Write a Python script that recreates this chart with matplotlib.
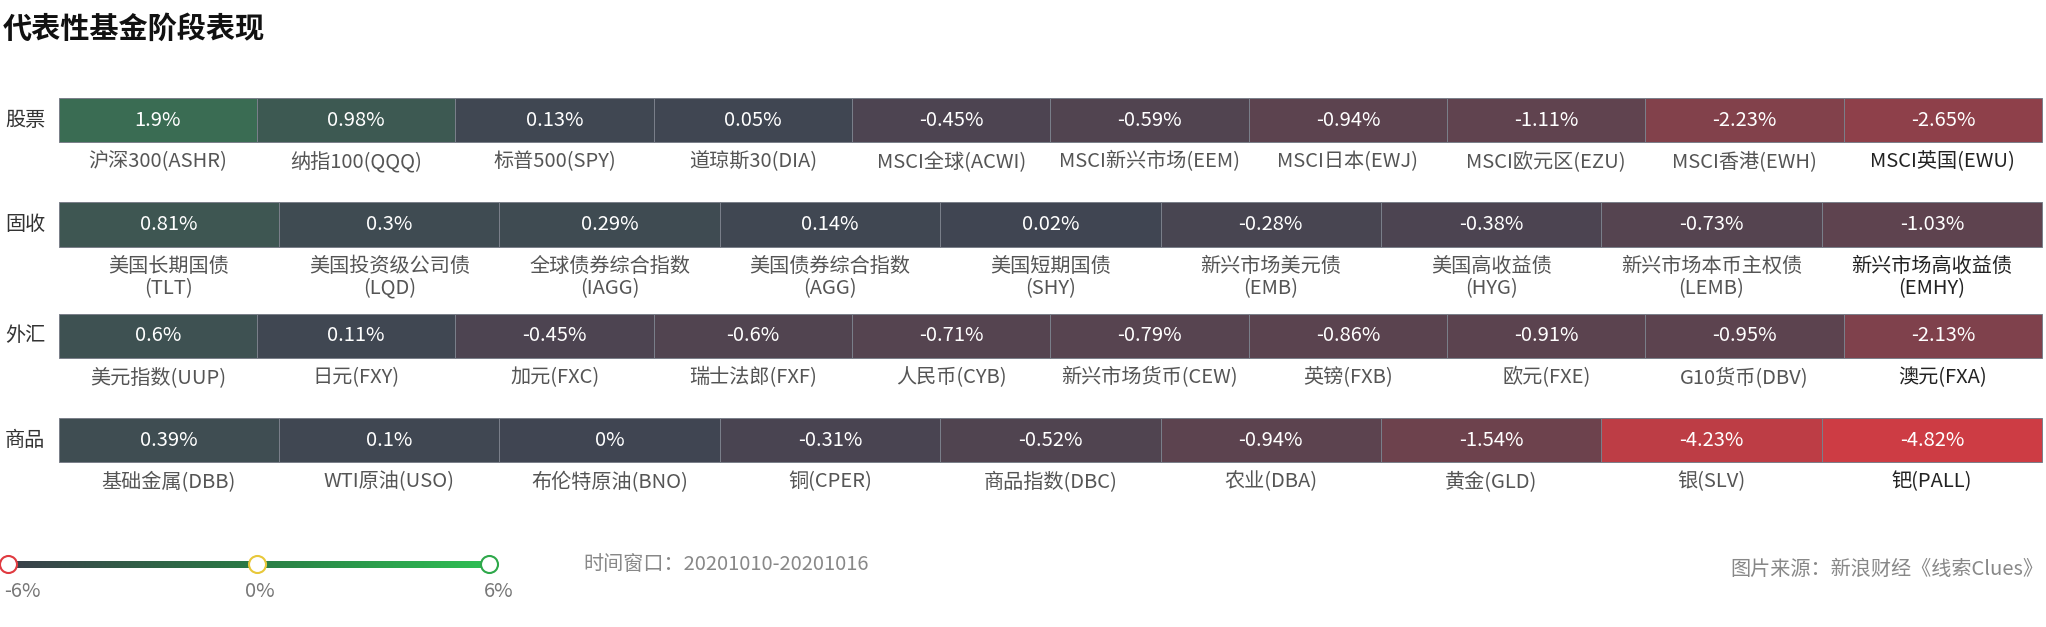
import numpy as np
import matplotlib
matplotlib.use('Agg')
import matplotlib.pyplot as plt
from matplotlib.colors import LinearSegmentedColormap

plt.rcParams['font.family'] = ['Noto Sans CJK SC', 'DejaVu Sans']

# ── Data ──
row_names = ['股票', '固收', '外汇', '商品']
stock_labels = ['沪深300(ASHR)', '纳指100(QQQ)', '标普500(SPY)', '道琼斯30(DIA)', 'MSCI全球(ACWI)',
                'MSCI新兴市场(EEM)', 'MSCI日本(EWJ)', 'MSCI欧元区(EZU)', 'MSCI香港(EWH)', 'MSCI英国(EWU)']
stock_values = [1.9, 0.98, 0.13, 0.05, -0.45, -0.59, -0.94, -1.11, -2.23, -2.65]
bond_labels = ['美国长期国债\n(TLT)', '美国投资级公司债\n(LQD)', '全球债券综合指数\n(IAGG)', '美国债券综合指数\n(AGG)',
               '美国短期国债\n(SHY)', '新兴市场美元债\n(EMB)', '美国高收益债\n(HYG)', '新兴市场本币主权债\n(LEMB)',
               '新兴市场高收益债\n(EMHY)']
bond_values = [0.81, 0.3, 0.29, 0.14, 0.02, -0.28, -0.38, -0.73, -1.03]
fx_labels = ['美元指数(UUP)', '日元(FXY)', '加元(FXC)', '瑞士法郎(FXF)', '人民币(CYB)', '新兴市场货币(CEW)',
             '英镑(FXB)', '欧元(FXE)', 'G10货币(DBV)', '澳元(FXA)']
fx_values = [0.6, 0.11, -0.45, -0.6, -0.71, -0.79, -0.86, -0.91, -0.95, -2.13]
cmd_labels = ['基础金属(DBB)', 'WTI原油(USO)', '布伦特原油(BNO)', '铜(CPER)', '商品指数(DBC)', '农业(DBA)',
              '黄金(GLD)', '银(SLV)', '钯(PALL)']
cmd_values = [0.39, 0.1, 0.0, -0.31, -0.52, -0.94, -1.54, -4.23, -4.82]

rows = [(stock_labels, stock_values), (bond_labels, bond_values),
        (fx_labels, fx_values), (cmd_labels, cmd_values)]

cmap = LinearSegmentedColormap.from_list('div', ['#f03a40', '#404552', '#2ec054'])

def fmt(v):
    return f'{v:g}%'

fig = plt.figure(figsize=(20.46, 6.27), dpi=100)
ax = fig.add_axes([0, 0, 1, 1])
# layout units: 1568 x 480 (scaled to the 2046 x 627 canvas)
ax.set_xlim(0, 1568)
ax.set_ylim(480, 0)
ax.axis('off')

fs = 14.5
ax.text(2, 22, '代表性基金阶段表现', fontsize=21, fontweight='bold', va='center', ha='left', color='#111')

x0, x1 = 45, 1565
row_tops = [75, 155, 240, 320]
h = 34
for (labels, values), top, name in zip(rows, row_tops, row_names):
    n = len(values)
    w = (x1 - x0) / n
    ax.text(4, top + h / 2, name, fontsize=fs, va='center', ha='left', color='#333')
    for i, (lab, v) in enumerate(zip(labels, values)):
        ax.add_patch(plt.Rectangle((x0 + i * w, top), w, h, facecolor=cmap((v + 6) / 12),
                                   edgecolor='#7a7f8a', linewidth=0.7))
        ax.text(x0 + (i + 0.5) * w, top + h / 2, fmt(v), fontsize=fs, color='white',
                ha='center', va='center')
        last = i == n - 1
        ax.text(x0 + (i + 0.5) * w, top + h + 7, lab, fontsize=fs, ha='center', va='top',
                color='#222' if last else '#555', linespacing=1.05)

# ── Legend ──
ly, lx0, lx1 = 432, 6, 375
grad = np.linspace(0, 1, 256).reshape(1, -1)
lcmap = LinearSegmentedColormap.from_list('leg', ['#3a3f4a', '#2a7a45', '#2ec054'])
ax.imshow(grad, extent=(lx0, lx1, ly + 2.5, ly - 2.5), cmap=lcmap, aspect='auto')
for xx, ec in [(lx0, '#e03a40'), (197, '#e8c83a'), (lx1, '#2ea84a')]:
    ax.scatter([xx], [ly], s=150, facecolor='white', edgecolor=ec, linewidth=1.5, zorder=5)
for xx, t in [(lx0 + 11, '-6%'), (199, '0%'), (382, '6%')]:
    ax.text(xx, ly + 21, t, fontsize=fs, ha='center', va='center', color='#777')
ax.text(447, ly, '时间窗口：20201010-20201016', fontsize=fs, ha='left', va='center', color='#888')
ax.text(1566, ly + 4, '图片来源：新浪财经《线索Clues》', fontsize=fs, ha='right', va='center', color='#888')

fig.savefig('out.png', dpi=100)
